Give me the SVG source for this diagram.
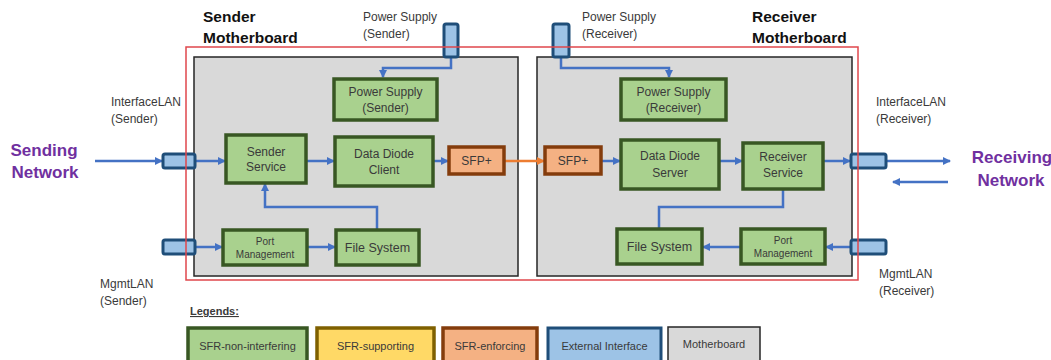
<svg xmlns="http://www.w3.org/2000/svg" width="1051" height="360" viewBox="0 0 1051 360">
<defs>
<marker id="ab" markerWidth="8" markerHeight="8" refX="7" refY="4" orient="auto" markerUnits="userSpaceOnUse"><path d="M0,0 L8,4 L0,8 Z" fill="#4472C4"/></marker>
<marker id="ao" markerWidth="8" markerHeight="8" refX="7" refY="4" orient="auto" markerUnits="userSpaceOnUse"><path d="M0,0 L8,4 L0,8 Z" fill="#ED7D31"/></marker>
</defs>
<style>
text{font-family:"Liberation Sans",Arial,sans-serif;fill:#3a3a3a;}
.mb{fill:#D9D9D9;stroke:#262626;stroke-width:1.5;}
.g{fill:#A9D18E;stroke:#385723;stroke-width:3.5;}
.y{fill:#FFD966;stroke:#7F6000;stroke-width:3.5;}
.o{fill:#F4B183;stroke:#843C0C;stroke-width:3.5;}
.b{fill:#9DC3E6;stroke:#1F4E79;stroke-width:3;}
.gl{fill:#D9D9D9;stroke:#262626;stroke-width:1.5;}
.t12{font-size:12px;text-anchor:middle;}
.t10{font-size:10px;text-anchor:middle;}
.lbl{font-size:12px;}
.ttl{font-size:15.5px;font-weight:bold;fill:#111;}
.net{font-size:17px;font-weight:bold;fill:#7030A0;text-anchor:middle;}
.leg{font-size:11px;text-anchor:middle;}
.c{fill:none;stroke:#4472C4;stroke-width:2.5;}
.co{fill:none;stroke:#ED7D31;stroke-width:2.5;}
</style>
<rect width="1051" height="360" fill="#fff"/>

<g id="sender-motherboard"><rect class="mb" x="194" y="57" width="324" height="219"/></g>
<g id="receiver-motherboard"><rect class="mb" x="537" y="57" width="315" height="219"/></g>

<g id="titles">
<text class="ttl" x="203" y="22">Sender</text>
<text class="ttl" x="203" y="43">Motherboard</text>
<text class="ttl" x="752" y="22">Receiver</text>
<text class="ttl" x="752" y="43">Motherboard</text>
</g>

<g id="labels">
<text class="lbl" x="363" y="21">Power Supply</text>
<text class="lbl" x="363" y="38">(Sender)</text>
<text class="lbl" x="582" y="21">Power Supply</text>
<text class="lbl" x="582" y="38">(Receiver)</text>
<text class="lbl" x="111" y="106">InterfaceLAN</text>
<text class="lbl" x="111" y="123">(Sender)</text>
<text class="lbl" x="876" y="106">InterfaceLAN</text>
<text class="lbl" x="876" y="123">(Receiver)</text>
<text class="lbl" x="100" y="288">MgmtLAN</text>
<text class="lbl" x="100" y="305">(Sender)</text>
<text class="lbl" x="879" y="278">MgmtLAN</text>
<text class="lbl" x="879" y="295">(Receiver)</text>
<text class="net" x="44" y="156">Sending</text>
<text class="net" x="45" y="178">Network</text>
<text class="net" x="1012" y="163">Receiving</text>
<text class="net" x="1011" y="186">Network</text>
</g>

<g id="connectors">
<path class="c" d="M95,161 H162" marker-end="url(#ab)"/>
<path class="c" d="M195,161 H225" marker-end="url(#ab)"/>
<path class="c" d="M306,161 H334" marker-end="url(#ab)"/>
<path class="c" d="M433,161 H448" marker-end="url(#ab)"/>
<path class="co" d="M504,161 H544" marker-end="url(#ao)"/>
<path class="c" d="M601,161 H620" marker-end="url(#ab)"/>
<path class="c" d="M719,161 H742" marker-end="url(#ab)"/>
<path class="c" d="M823,161 H850" marker-end="url(#ab)"/>
<path class="c" d="M886,161 H950" marker-end="url(#ab)"/>
<path class="c" d="M948,182 H893" marker-end="url(#ab)"/>
<path class="c" d="M451,57 V68 H383 V77" marker-end="url(#ab)"/>
<path class="c" d="M561,57 V68 H669 V77" marker-end="url(#ab)"/>
<path class="c" d="M377,230 V207 H265 V184" marker-end="url(#ab)"/>
<path class="c" d="M195,247 H222" marker-end="url(#ab)"/>
<path class="c" d="M307,247 H335" marker-end="url(#ab)"/>
<path class="c" d="M783,189 V207 H659 V229"/>
<path class="c" d="M851,247 H826" marker-end="url(#ab)"/>
<path class="c" d="M741,247 H703" marker-end="url(#ab)"/>
</g>

<g id="ps-sender"><rect class="g" x="334" y="79" width="103" height="41"/><text class="t12" x="385.5" y="96">Power Supply</text><text class="t12" x="385.5" y="112">(Sender)</text></g>
<g id="ps-receiver"><rect class="g" x="621" y="79" width="105" height="41"/><text class="t12" x="673.5" y="96">Power Supply</text><text class="t12" x="673.5" y="112">(Receiver)</text></g>
<g id="sender-service"><rect class="g" x="226" y="135" width="80" height="48"/><text class="t12" x="266" y="156">Sender</text><text class="t12" x="266" y="171">Service</text></g>
<g id="dd-client"><rect class="g" x="335" y="137" width="98" height="49"/><text class="t12" x="384" y="158">Data Diode</text><text class="t12" x="384" y="174">Client</text></g>
<g id="sfp-sender"><rect class="o" x="449" y="147" width="55" height="27"/><text class="t12" x="476.5" y="165">SFP+</text></g>
<g id="port-mgmt-sender"><rect class="g" x="223" y="230" width="84" height="35"/><text class="t10" x="265" y="245">Port</text><text class="t10" x="265" y="258">Management</text></g>
<g id="fs-sender"><rect class="g" x="336" y="230" width="83" height="35"/><text class="t12" x="377.5" y="252" style="font-size:12.5px">File System</text></g>
<g id="sfp-receiver"><rect class="o" x="545" y="147" width="56" height="27"/><text class="t12" x="573" y="165">SFP+</text></g>
<g id="dd-server"><rect class="g" x="621" y="140" width="98" height="49"/><text class="t12" x="670" y="160">Data Diode</text><text class="t12" x="670" y="177">Server</text></g>
<g id="receiver-service"><rect class="g" x="743" y="143" width="80" height="46"/><text class="t12" x="783" y="161">Receiver</text><text class="t12" x="783" y="177">Service</text></g>
<g id="fs-receiver"><rect class="g" x="617" y="229" width="85" height="35"/><text class="t12" x="659.5" y="251" style="font-size:12.5px">File System</text></g>
<g id="port-mgmt-receiver"><rect class="g" x="741" y="229" width="84" height="35"/><text class="t10" x="783" y="244">Port</text><text class="t10" x="783" y="257">Management</text></g>

<g id="if-sender"><rect class="b" x="163" y="154" width="32" height="14" rx="2"/></g>
<g id="mgmt-sender"><rect class="b" x="163" y="240" width="32" height="14" rx="2"/></g>
<g id="if-receiver"><rect class="b" x="851" y="154" width="35" height="14" rx="2"/></g>
<g id="mgmt-receiver"><rect class="b" x="851" y="240" width="35" height="14" rx="2"/></g>
<g id="psc-sender"><rect class="b" x="444" y="24" width="14" height="33" rx="2"/></g>
<g id="psc-receiver"><rect class="b" x="553" y="24" width="16" height="33" rx="2"/></g>

<g id="boundary"><rect x="186" y="47" width="672" height="233" fill="none" stroke="#E0474C" stroke-width="1.5"/></g>

<g id="legend">
<text x="190" y="315" style="font-size:11px;font-weight:bold;text-decoration:underline">Legends:</text>
<rect class="g" x="188" y="328" width="119" height="36"/><text class="leg" x="247.5" y="350">SFR-non-interfering</text>
<rect class="y" x="317" y="328" width="117" height="36"/><text class="leg" x="375.5" y="350">SFR-supporting</text>
<rect class="o" x="443" y="328" width="94" height="36"/><text class="leg" x="490" y="350">SFR-enforcing</text>
<rect class="b" x="548" y="328" width="113" height="36"/><text class="leg" x="604.5" y="350">External Interface</text>
<rect class="gl" x="668" y="327" width="92" height="37"/><text class="leg" x="714" y="348">Motherboard</text>
</g>
</svg>
